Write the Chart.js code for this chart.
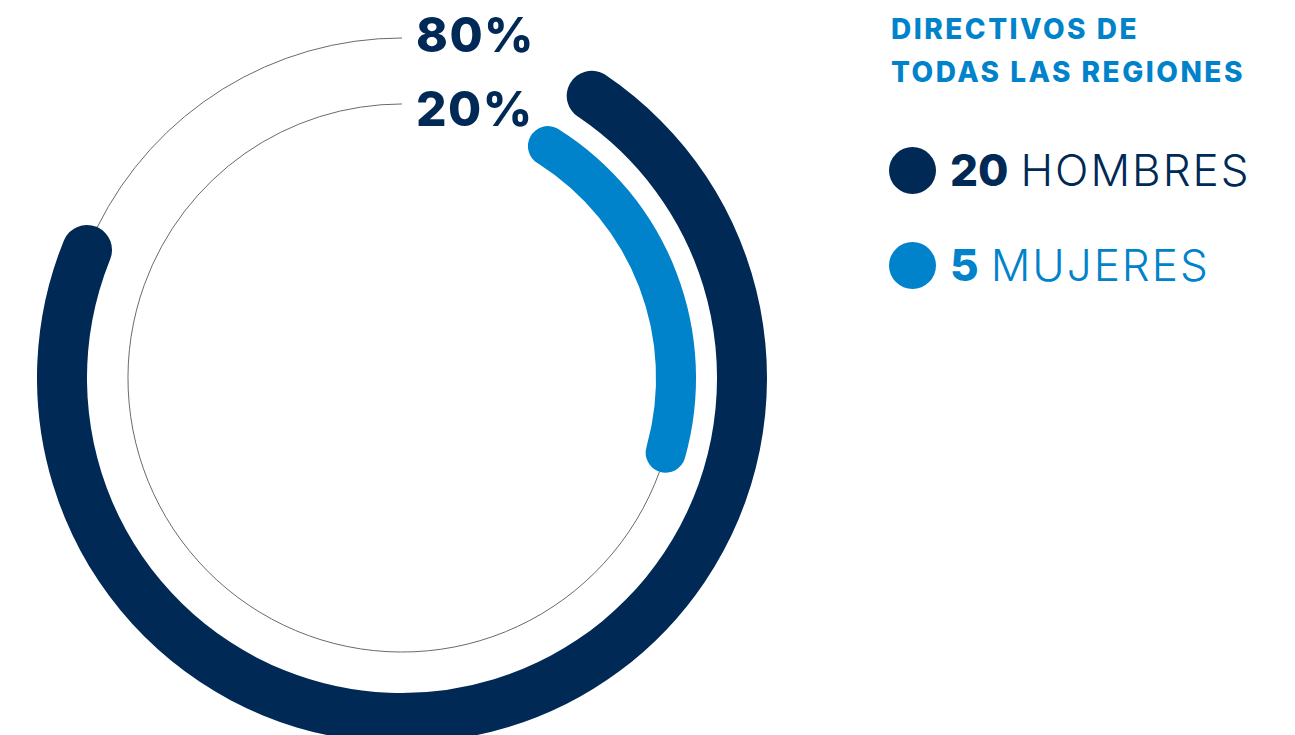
<!DOCTYPE html>
<html lang="es">
<head>
<meta charset="utf-8">
<script src="https://cdn.jsdelivr.net/npm/chart.js@4.4.1/dist/chart.umd.min.js"></script>
<style>
  html, body { margin: 0; padding: 0; background: #fff; }
  body { width: 1295px; height: 735px; overflow: hidden; position: relative; font-family: Inter, "Noto Sans", sans-serif; }
  #wrap { position: absolute; left: 37px; top: 13px; width: 730px; height: 730px; }
  .title { position: absolute; left: 891px; top: 8px; color: #0083ca; font-weight: 800; font-size: 28px; line-height: 43px; letter-spacing: 2.5px; }
  .item { position: absolute; left: 889px; display: flex; align-items: center; font-size: 44px; white-space: nowrap; }
  .dot { width: 47px; height: 47px; border-radius: 50%; margin-right: 14px; }
  .item b { font-weight: 800; margin-right: 12px; }
  .item span { font-weight: 300; letter-spacing: 2px; }
</style>
</head>
<body>
<div id="wrap"><canvas id="chart"></canvas></div>
<div class="title">DIRECTIVOS DE<br>TODAS LAS REGIONES</div>
<div id="legend"></div>
<script>
const categorias = ['HOMBRES', 'MUJERES'];
const cantidades = [20, 5];
const porcentajes = [80, 20];
const etiquetas = ['80%', '20%'];
const colores = ['#002955', '#0083ca'];

// leyenda
const legend = document.getElementById('legend');
const legendTop = [143, 238];
categorias.forEach((c, i) => {
    const d = document.createElement('div');
    d.className = 'item';
    d.style.top = legendTop[i] + 'px';
    d.style.color = colores[i];
    d.innerHTML = `<div class="dot" style="background:${colores[i]}"></div><b>${cantidades[i]}</b><span>${c}</span>`;
    legend.appendChild(d);
});

// lineas finas + etiquetas de porcentaje
const ringDeco = {
    id: 'ringDeco',
    beforeDatasetsDraw(chart) {
        const ctx = chart.ctx;
        ctx.save();
        ctx.strokeStyle = '#6a6a6a';
        ctx.lineWidth = 1;
        [0, 2].forEach(di => {
            const arc = chart.getDatasetMeta(di).data[0];
            const r = (arc.innerRadius + arc.outerRadius) / 2;
            ctx.beginPath();
            ctx.arc(arc.x, arc.y, r, arc.endAngle, 1.5 * Math.PI);
            ctx.stroke();
        });
        ctx.restore();
    },
    afterDatasetsDraw(chart) {
        const ctx = chart.ctx;
        const dy = [0, 8];
        ctx.save();
        ctx.fillStyle = colores[0];
        ctx.font = '800 48px Inter';
        ctx.letterSpacing = '1.5px';
        ctx.textBaseline = 'middle';
        [0, 2].forEach((di, k) => {
            const arc = chart.getDatasetMeta(di).data[0];
            const r = (arc.innerRadius + arc.outerRadius) / 2;
            ctx.fillText(etiquetas[k], arc.x + 14, arc.y - r + dy[k]);
        });
        ctx.restore();
    }
};

new Chart(document.getElementById('chart'), {
    type: 'doughnut',
    data: {
        labels: categorias,
        datasets: [
            { data: [porcentajes[0], 100 - porcentajes[0]], backgroundColor: [colores[0], 'transparent'],
              weight: 50, rotation: 29.7, circumference: 333.3, borderRadius: 25 },
            { data: [], weight: 21 },
            { data: [porcentajes[1], 100 - porcentajes[1]], backgroundColor: [colores[1], 'transparent'],
              weight: 40, rotation: 28, circumference: 410, borderRadius: 20 }
        ]
    },
    options: {
        responsive: true,
        maintainAspectRatio: false,
        animation: false,
        events: [],
        cutout: '69.6%',
        borderWidth: 0,
        layout: { padding: 0 },
        plugins: { legend: { display: false }, tooltip: { enabled: false } }
    },
    plugins: [ringDeco]
});
</script>
</body>
</html>
